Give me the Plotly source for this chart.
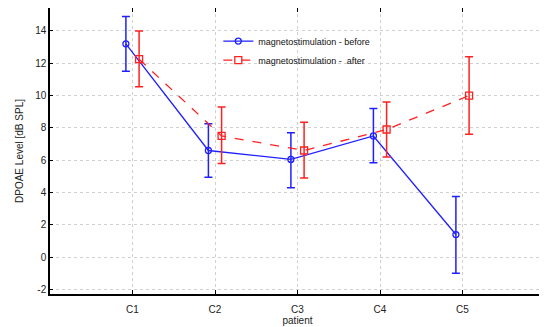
import plotly.graph_objects as go

patients = ["C1", "C2", "C3", "C4", "C5"]
positions = [1, 2, 3, 4, 5]
before_mean = [13.2, 6.6, 6.05, 7.5, 1.4]
before_upper = [14.9, 8.25, 7.7, 9.2, 3.75]
before_lower = [11.5, 4.95, 4.3, 5.85, -1.0]
after_mean = [12.25, 7.5, 6.6, 7.9, 10.0]
after_upper = [14.0, 9.3, 8.35, 9.6, 12.4]
after_lower = [10.55, 5.8, 4.9, 6.2, 7.6]
y_ticks = [-2, 0, 2, 4, 6, 8, 10, 12, 14]
y_ticktext = ["-2", "0", "2", "4", "6", "8", "10", "12", "14"]

off = 0.08
xb = [p - off for p in positions]
xa = [p + off for p in positions]

fig = go.Figure()
fig.add_trace(go.Scatter(
    x=xb, y=before_mean, name="magnetostimulation - before",
    mode="lines+markers",
    line=dict(color="#2020ff", width=1.3),
    marker=dict(symbol="circle-open", size=6, color="#2020ff", line=dict(width=1.3)),
    error_y=dict(type="data", symmetric=False,
                 array=[u - m for u, m in zip(before_upper, before_mean)],
                 arrayminus=[m - l for m, l in zip(before_mean, before_lower)],
                 color="#2020ff", thickness=1.5, width=4),
))
fig.add_trace(go.Scatter(
    x=xa, y=after_mean, name="magnetostimulation -  after",
    mode="lines+markers",
    line=dict(color="#ff2020", width=1.3, dash="dash"),
    marker=dict(symbol="square-open", size=7, color="#ff2020", line=dict(width=1.3)),
    error_y=dict(type="data", symmetric=False,
                 array=[u - m for u, m in zip(after_upper, after_mean)],
                 arrayminus=[m - l for m, l in zip(after_mean, after_lower)],
                 color="#ff2020", thickness=1.5, width=4),
))

# page body has an 8px default margin; figure is sized to fit the window
fig.update_layout(
    width=539, height=319,
    margin=dict(l=42, r=2, t=0, b=33),
    paper_bgcolor="white", plot_bgcolor="white",
    font=dict(family="Liberation Sans, Arial, sans-serif", size=10, color="#222"),
    showlegend=True,
    legend=dict(x=0.34, y=0.935, xanchor="left", yanchor="top",
                bgcolor="rgba(0,0,0,0)", font=dict(size=9, color="#111"),
                itemwidth=30, tracegroupgap=0),
)
fig.update_xaxes(
    range=[0, 6], tickvals=positions, ticktext=patients,
    automargin=False,
    showline=True, linecolor="black", linewidth=1.5, mirror="ticks",
    ticks="inside", ticklen=4, tickcolor="black",
    ticklabelstandoff=5,
    showgrid=True, gridcolor="#d0d0d0", griddash="dot", gridwidth=1,
    zeroline=False,
    title=dict(text="patient", standoff=0, font=dict(size=10)),
)
fig.update_yaxes(
    range=[-2.28, 15.42], tickvals=y_ticks, ticktext=y_ticktext,
    automargin=False,
    showline=True, linecolor="black", linewidth=1.5, mirror="ticks",
    ticks="inside", ticklen=3, tickcolor="black",
    showgrid=True, gridcolor="#d0d0d0", griddash="dot", gridwidth=1,
    zeroline=False,
    title=dict(text="DPOAE Level [dB SPL]", standoff=10, font=dict(size=10)),
)

fig.write_html("out.html")
